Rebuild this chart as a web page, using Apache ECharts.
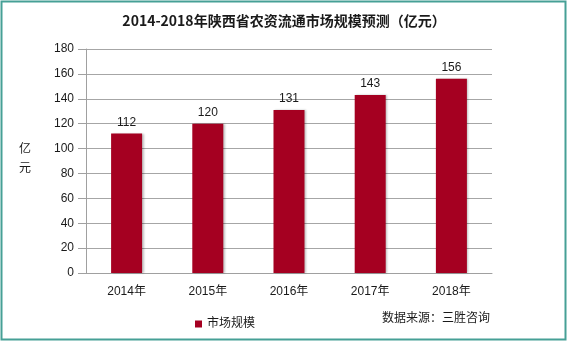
<!DOCTYPE html>
<html><head><meta charset="utf-8">
<script src="https://cdn.jsdelivr.net/npm/echarts@6/dist/echarts.min.js"></script>
<style>html,body{margin:0;padding:0;background:#fff}#c{width:568px;height:342px}</style>
</head><body><div id="c"></div>
<script>
const categories = ['2014年','2015年','2016年','2017年','2018年'];
const marketSize = [112,120,131,143,156];
const seriesName = '市场规模';
const titleText = '2014-2018年陕西省农资流通市场规模预测（亿元）';
const sourceText = '数据来源：三胜咨询';
const yAxisName = '亿元';

const font = '"Liberation Sans", "Noto Sans CJK SC", sans-serif';
const chart = echarts.init(document.getElementById('c'));
chart.setOption({
  animation: false,
  title: {
    text: titleText, left: 'center', top: 9,
    textStyle: { fontSize: 14, fontWeight: 'bold', color: '#1a1a1a', fontFamily: '"Noto Sans CJK SC", sans-serif' }
  },
  grid: { left: 86, right: 76, top: 49, bottom: 69 },
  legend: {
    data: [seriesName], left: 190, top: 313, icon: 'rect', itemWidth: 7, itemHeight: 7, itemGap: 5,
    textStyle: { fontSize: 12, color: '#1a1a1a', fontFamily: font }
  },
  graphic: [
    { type: 'rect', shape: { x: 1.5, y: 1.5, width: 564, height: 338 }, style: { fill: 'none', stroke: '#46a096', lineWidth: 2 }, silent: true },
    { type: 'text', left: 382, top: 313, style: { text: sourceText, fontSize: 12, fill: '#1a1a1a', fontFamily: font } },
    { type: 'text', left: 19, top: 140, style: { text: '亿\n元', fontSize: 12, lineHeight: 19, fill: '#1a1a1a', fontFamily: font } }
  ],
  xAxis: {
    type: 'category', data: categories,
    axisLine: { lineStyle: { color: '#a0a0a0' } },
    axisTick: { length: 4, lineStyle: { color: '#a0a0a0' } },
    axisLabel: { margin: 13, fontSize: 12, color: '#1a1a1a', fontFamily: font }
  },
  yAxis: {
    type: 'value', min: 0, max: 180, interval: 20,
    axisLine: { show: true, lineStyle: { color: '#a0a0a0' } },
    axisTick: { show: true, length: 8, inside: false, lineStyle: { color: '#a0a0a0' } },
    axisLabel: { margin: 12, fontSize: 12, color: '#1a1a1a', fontFamily: font },
    splitLine: { lineStyle: { color: '#a6a6a6' } }
  },
  series: [{
    name: seriesName, type: 'bar', data: marketSize, barWidth: 31,
    itemStyle: { color: '#a50021', shadowColor: 'rgba(0,0,0,0.25)', shadowBlur: 2, shadowOffsetX: 1.5, shadowOffsetY: 0 },
    label: { show: true, position: 'top', distance: 5, fontSize: 12, color: '#1a1a1a', fontFamily: font }
  }]
});
</script></body></html>
